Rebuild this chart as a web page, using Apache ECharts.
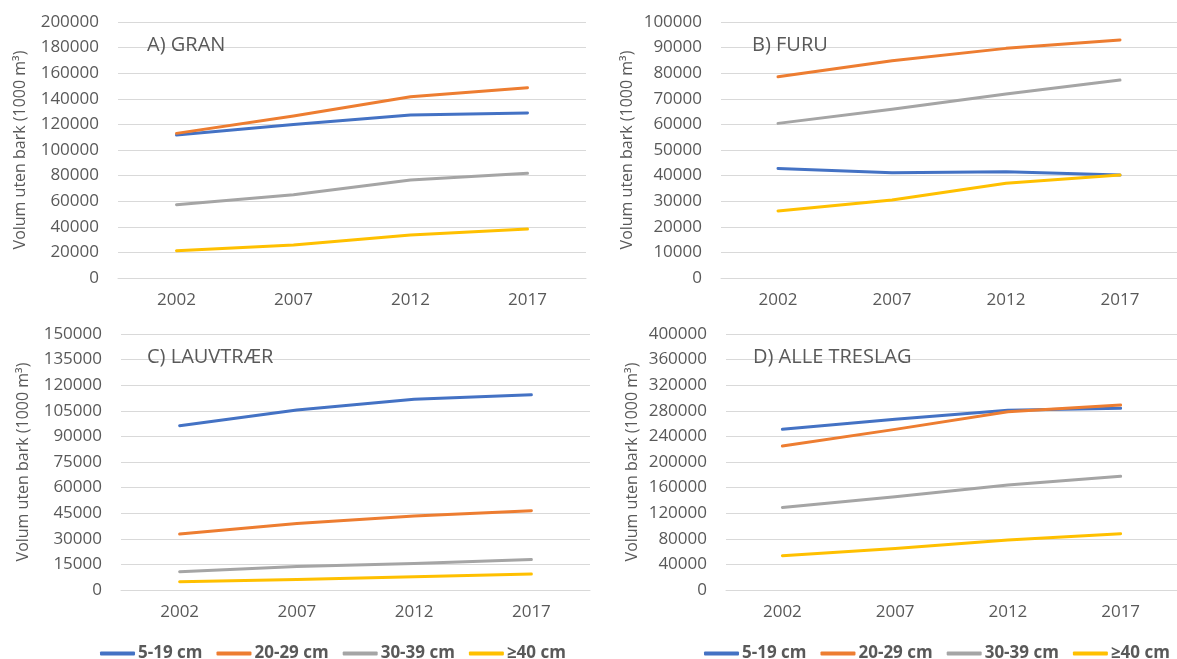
<!DOCTYPE html>
<html>
<head>
<meta charset="utf-8">
<script src="https://cdn.jsdelivr.net/npm/echarts@6/dist/echarts.min.js"></script>
<style>
  html, body { margin: 0; padding: 0; background: #fff; }
  #chart { width: 1177px; height: 659px; }
</style>
</head>
<body>
<div id="chart"></div>
<script>
var years = ['2002', '2007', '2012', '2017'];
var seriesNames = ['5-19 cm', '20-29 cm', '30-39 cm', '≥40 cm'];
var colors = ['#4472C4', '#ED7D31', '#A5A5A5', '#FFC000'];

// A) GRAN
var gran519 = [111700, 120000, 127300, 129000];
var gran2029 = [113000, 126500, 141600, 148700];
var gran3039 = [57300, 65000, 76600, 81800];
var gran40 = [21300, 25800, 33600, 38300];
// B) FURU
var furu519 = [42800, 41100, 41500, 40200];
var furu2029 = [78600, 84900, 89700, 93000];
var furu3039 = [60400, 65900, 71900, 77300];
var furu40 = [26200, 30500, 37000, 40200];
// C) LAUVTRÆR
var lauv519 = [96300, 105500, 111700, 114400];
var lauv2029 = [32800, 39000, 43400, 46500];
var lauv3039 = [10700, 13700, 15600, 17800];
var lauv40 = [4900, 6200, 7800, 9400];
// D) ALLE TRESLAG
var alle519 = [251000, 266700, 281000, 284000];
var alle2029 = [225000, 251000, 278600, 289000];
var alle3039 = [129000, 145800, 164000, 177600];
var alle40 = [53600, 65000, 78000, 88000];

var panelTitles = ['A) GRAN', 'B) FURU', 'C) LAUVTRÆR', 'D) ALLE TRESLAG'];
var panelMax = [200000, 100000, 150000, 400000];
var panelStep = [20000, 10000, 15000, 40000];
var panelData = [
  [gran519, gran2029, gran3039, gran40],
  [furu519, furu2029, furu3039, furu40],
  [lauv519, lauv2029, lauv3039, lauv40],
  [alle519, alle2029, alle3039, alle40]
];

var font = '"Open Sans", sans-serif';
var textColor = '#595959';
var gridColor = '#D9D9D9';

var grids = [
  {left: 118, top: 22, width: 468, height: 256},
  {left: 721, top: 22, width: 470, height: 256},
  {left: 121, top: 334, width: 469, height: 256},
  {left: 726, top: 334, width: 468, height: 256}
];
var titlePos = [
  {left: 147, top: 35},
  {left: 752, top: 35},
  {left: 147, top: 347},
  {left: 753, top: 347}
];

var xAxes = [], yAxes = [], series = [], titles = [];
for (var p = 0; p < 4; p++) {
  xAxes.push({
    type: 'category', gridIndex: p, data: years, boundaryGap: true,
    axisLine: {show: true, lineStyle: {color: gridColor, width: 1}},
    axisTick: {show: false},
    axisLabel: {color: textColor, fontFamily: font, fontSize: 17, margin: 14}
  });
  yAxes.push({
    type: 'value', gridIndex: p, min: 0, max: panelMax[p], interval: panelStep[p],
    name: 'Volum uten bark (1000 m³)', nameLocation: 'middle', nameGap: p % 2 == 0 ? 90 : 86,
    nameTextStyle: {color: textColor, fontFamily: font, fontSize: 16},
    axisLine: {show: false}, axisTick: {show: false},
    splitLine: {lineStyle: {color: gridColor, width: 1}},
    axisLabel: {color: textColor, fontFamily: font, fontSize: 17, margin: 19,
      formatter: function(v){ return String(v); }}
  });
  titles.push({
    text: panelTitles[p], left: titlePos[p].left, top: titlePos[p].top, padding: 0,
    textStyle: {color: textColor, fontFamily: font, fontSize: 20, fontWeight: 'normal'}
  });
  for (var s = 0; s < 4; s++) {
    series.push({
      name: seriesNames[s], type: 'line', xAxisIndex: p, yAxisIndex: p,
      data: panelData[p][s], symbol: 'none', showSymbol: false,
      lineStyle: {color: colors[s], width: 3, cap: 'round', join: 'round'},
      itemStyle: {color: colors[s]}
    });
  }
}

var legendBase = {
  orient: 'horizontal', top: 645, padding: 0, itemWidth: 35, itemHeight: 4, itemGap: 14,
  icon: 'roundRect', data: seriesNames,
  textStyle: {color: textColor, fontFamily: font, fontSize: 17, fontWeight: 'bold', padding: [0, 0, 0, -2]}
};

var option = {
  backgroundColor: '#fff',
  animation: false,
  title: titles,
  grid: grids,
  xAxis: xAxes,
  yAxis: yAxes,
  legend: [
    Object.assign({}, legendBase, {left: 100}),
    Object.assign({}, legendBase, {left: 704})
  ],
  series: series
};

var chart = echarts.init(document.getElementById('chart'));
chart.setOption(option);
</script>
</body>
</html>
